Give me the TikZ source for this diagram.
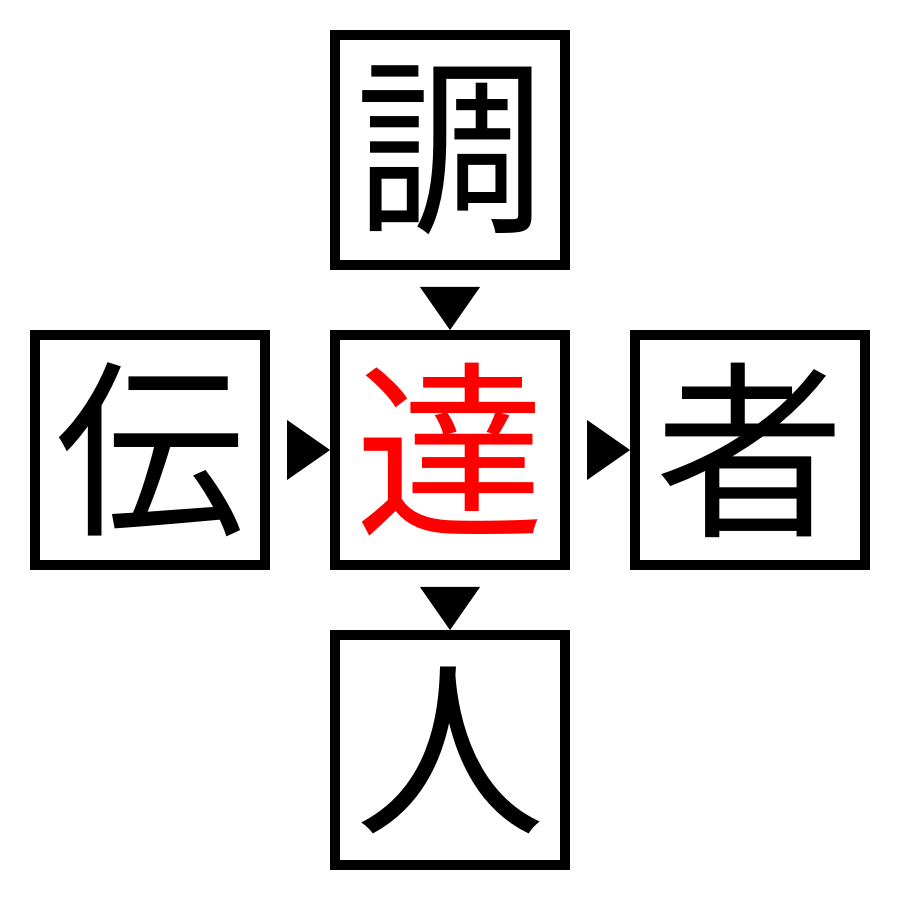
\documentclass[tikz,border=0pt]{standalone}
\usepackage{fontspec}
\newfontfamily\jpfont{Noto Sans CJK JP}
\usetikzlibrary{calc}

\tikzstyle{kbox}=[draw,line width=0.2cm,minimum size=4.6cm,inner sep=0pt,font=\jpfont\fontsize{108}{108}\selectfont]
\tikzstyle{tri}=[fill=black]

\begin{document}
\begin{tikzpicture}
  \useasboundingbox (0,0) rectangle (18,18);

  \node[kbox] (cho) at (9,15) {調};
  \node[kbox] (den) at (3,9) {伝};
  \node[kbox,text=red] (tatsu) at (9,9) {達};
  \node[kbox] (sha) at (15,9) {者};
  \node[kbox] (nin) at (9,3) {人};

  % down markers
  \fill[tri] ($(cho.south)+(-0.6,-0.34)$) -- ++(1.2,0) -- ++(-0.6,-0.86) -- cycle;
  \fill[tri] ($(tatsu.south)+(-0.6,-0.34)$) -- ++(1.2,0) -- ++(-0.6,-0.86) -- cycle;
  % right markers
  \fill[tri] ($(den.east)+(0.34,0.6)$) -- ++(0,-1.2) -- ++(0.86,0.6) -- cycle;
  \fill[tri] ($(tatsu.east)+(0.34,0.6)$) -- ++(0,-1.2) -- ++(0.86,0.6) -- cycle;

\end{tikzpicture}
\end{document}
